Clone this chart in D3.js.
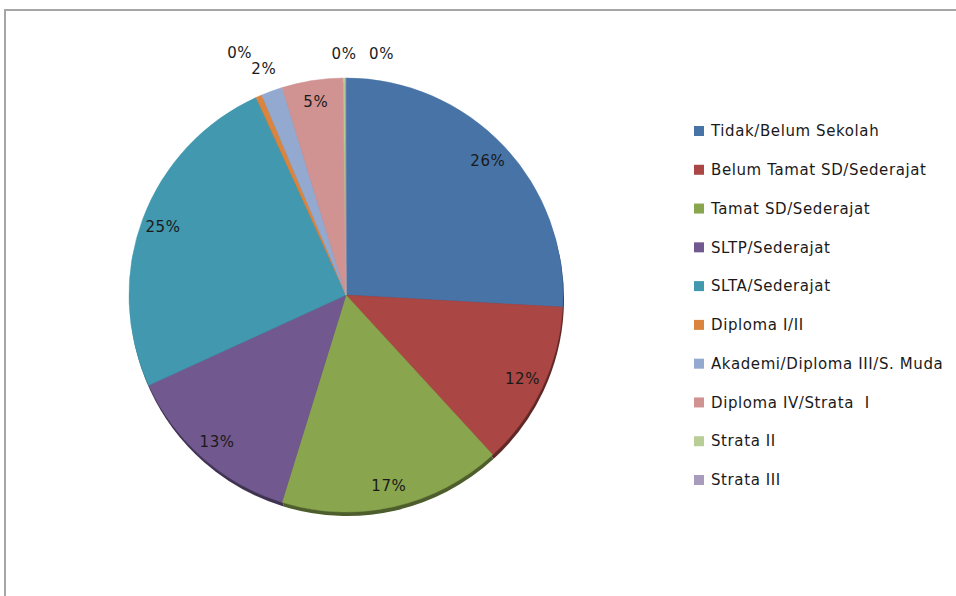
<!DOCTYPE html>
<html>
<head>
<meta charset="utf-8">
<style>
    html, body { margin: 0; padding: 0; background: #fff; }
    svg { display: block; }
    text { font-family: "DejaVu Sans", Verdana, sans-serif; fill: #1a1a1a; letter-spacing: 0.6px; white-space: pre; }
</style>
</head>
<body>
<svg id="chart"></svg>
<script src="https://cdn.jsdelivr.net/npm/d3@7"></script>
<script>
    "use strict"
    const width = 956;
    const height = 596;

    // data (share of population, %)
    const categories = [
        "Tidak/Belum Sekolah",
        "Belum Tamat SD/Sederajat",
        "Tamat SD/Sederajat",
        "SLTP/Sederajat",
        "SLTA/Sederajat",
        "Diploma I/II",
        "Akademi/Diploma III/S. Muda",
        "Diploma IV/Strata  I",
        "Strata II",
        "Strata III"
    ];
    const values = [25.9, 12.3, 16.6, 13.4, 25.05, 0.45, 1.6, 4.55, 0.15, 0.05];
    const colors = ["#4773a6", "#aa4643", "#89a54e", "#71588f", "#4198af",
                    "#db843d", "#93a9cf", "#d19392", "#b9cd96", "#a99bbd"];

    const cx = 346, cy = 295, radius = 217;

    const svg = d3.select("#chart")
        .attr("width", width)
        .attr("height", height);

    // chart frame (only top and left edges are visible)
    svg.append("rect")
        .attr("x", 5).attr("y", 10)
        .attr("width", 1400).attr("height", 900)
        .attr("fill", "none")
        .attr("stroke", "#a6a6a6")
        .attr("stroke-width", 2);

    const total = d3.sum(values);
    const table = categories.map((c, i) => ({ name: c, value: values[i], color: colors[i] }));

    const pie = d3.pie().sort(null).value(d => d.value);
    const arcs = pie(table);
    const arc = d3.arc().innerRadius(0).outerRadius(radius);

    const g = svg.append("g").attr("transform", `translate(${cx},${cy})`);

    // soft shadow below the pie
    g.append("g")
        .attr("transform", "translate(1,4)")
        .selectAll("path")
        .data(arcs)
        .join("path")
        .attr("d", arc)
        .attr("fill", d => d3.color(d.data.color).darker(1.6));

    g.append("g")
        .selectAll("path")
        .data(arcs)
        .join("path")
        .attr("d", arc)
        .attr("fill", d => d.data.color)
        .attr("stroke", d => d.data.color)
        .attr("stroke-width", 0.5);

    // labels
    const pct = d => Math.round(d.value / total * 100) + "%";
    const inner = d3.arc().innerRadius(radius * 0.9).outerRadius(radius * 0.9);
    const outer = d3.arc().innerRadius(radius * 1.11).outerRadius(radius * 1.11);

    const labels = arcs.map(d => {
        const small = (d.endAngle - d.startAngle) < 0.2;
        const p = small ? outer.centroid(d) : inner.centroid(d);
        const mid = (d.startAngle + d.endAngle) / 2;
        return { d, small, x: p[0], y: p[1], mid, text: pct(d.data) };
    });

    // nudge overlapping outside labels apart
    const bw = 26, bh = 16;
    const topBand = 0.05;
    const overlap = (a, b) => Math.abs(a.x - b.x) < bw && Math.abs(a.y - b.y) < bh;
    const placed = [];
    const outside = labels.filter(l => l.small);
    const nearTop = l => l.mid > 2 * Math.PI - topBand || l.mid < topBand;
    const leftSide = outside.filter(l => l.mid > Math.PI && !nearTop(l)).reverse();
    const rightSide = outside.filter(l => l.mid <= Math.PI || nearTop(l))
        .sort((a, b) => ((a.mid + Math.PI) % (2 * Math.PI)) - ((b.mid + Math.PI) % (2 * Math.PI)));
    leftSide.concat(rightSide).forEach(l => {
        let moved = 0;
        while (placed.some(p => overlap(l, p)) && moved < 200) {
            if (!nearTop(l) && l.mid > Math.PI) {
                l.x += Math.sin(l.mid);
                l.y -= Math.cos(l.mid);
            } else {
                l.x += 1;
            }
            moved++;
        }
        if (moved > 0 && nearTop(l)) l.x += 11;
        placed.push(l);
    });

    g.append("g")
        .selectAll("text")
        .data(labels)
        .join("text")
        .attr("x", l => l.x)
        .attr("y", l => l.y)
        .attr("dy", "0.35em")
        .attr("text-anchor", "middle")
        .attr("font-size", 15)
        .text(l => l.text);

    // legend
    const legendY = d3.scalePoint()
        .domain(categories)
        .range([131, 480]);

    const legend = svg.append("g")
        .selectAll("g")
        .data(table)
        .join("g")
        .attr("transform", d => `translate(694,${legendY(d.name)})`);

    legend.append("rect")
        .attr("x", 0).attr("y", -5)
        .attr("width", 10).attr("height", 10)
        .attr("fill", d => d.color);

    legend.append("text")
        .attr("x", 17)
        .attr("dy", "0.35em")
        .attr("font-size", 15)
        .text(d => d.name);
</script>
</body>
</html>
